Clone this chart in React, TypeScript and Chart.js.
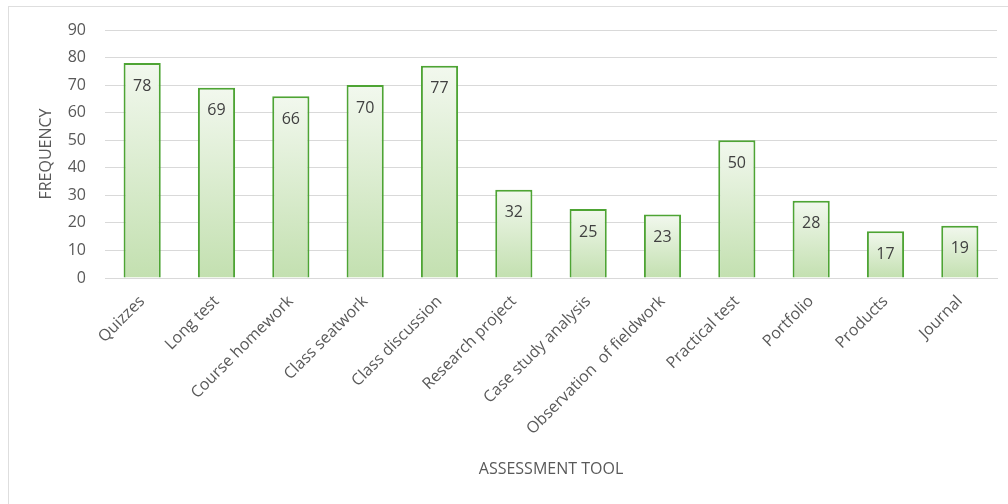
import React, { useEffect, useRef } from "react";
import { Chart, registerables } from "chart.js";

Chart.register(...registerables);

const categories = [
  "Quizzes",
  "Long test",
  "Course homework",
  "Class seatwork",
  "Class discussion",
  "Research project",
  "Case study analysis",
  "Observation  of fieldwork",
  "Practical test",
  "Portfolio",
  "Products",
  "Journal",
];
const frequencies = [78, 69, 66, 70, 77, 32, 25, 23, 50, 28, 17, 19];
const yTicks = [0, 10, 20, 30, 40, 50, 60, 70, 80, 90];

const FONT = "'Open Sans', 'Noto Sans', sans-serif";
const TEXT = "#595959";

const valueLabels = {
  id: "valueLabels",
  afterDatasetsDraw(chart: any) {
    const ctx = chart.ctx;
    const meta = chart.getDatasetMeta(0);
    ctx.save();
    ctx.font = `16px ${FONT}`;
    ctx.fillStyle = "#404040";
    ctx.textAlign = "center";
    ctx.textBaseline = "middle";
    meta.data.forEach((el: any, i: number) => {
      ctx.fillText(String(frequencies[i]), el.x, el.y + 23);
    });
    ctx.restore();
  },
};

export default function App() {
  const ref = useRef<HTMLCanvasElement | null>(null);
  useEffect(() => {
    if (!ref.current) return;
    const chart = new Chart(ref.current, {
      type: "bar",
      data: {
        labels: categories,
        datasets: [
          {
            data: frequencies,
            backgroundColor: (c: any) => {
              const ch = c.chart;
              const y = ch.scales && ch.scales.y;
              if (!y || typeof c.raw !== "number") return "#dcefd0";
              const top = y.getPixelForValue(c.raw);
              const bottom = y.getPixelForValue(0);
              if (!isFinite(top) || !isFinite(bottom) || top === bottom) return "#dcefd0";
              const g = ch.ctx.createLinearGradient(0, top, 0, bottom);
              g.addColorStop(0, "#f2f8ee");
              g.addColorStop(1, "#c3e0b0");
              return g;
            },
            borderColor: "#4ea434",
            borderWidth: 2,
            borderSkipped: "bottom",
            categoryPercentage: 1,
            barPercentage: 0.5,
          },
        ],
      },
      options: {
        animation: false,
        responsive: false,
        maintainAspectRatio: false,
        layout: { padding: { top: 30, right: 11, left: 0, bottom: 0 } },
        plugins: { legend: { display: false }, tooltip: { enabled: false } },
        scales: {
          x: {
            grid: { display: false },
            border: { display: true, color: "#d9d9d9" },
            ticks: {
              color: TEXT,
              font: { family: FONT, size: 16 },
              minRotation: 45,
              maxRotation: 45,
              autoSkip: false,
              padding: 6,
            },
            title: {
              display: true,
              text: "ASSESSMENT TOOL",
              color: TEXT,
              font: { family: FONT, size: 16 },
              padding: { top: 0, bottom: 25 },
            },
            afterFit: (s: any) => {
              s.height = 226;
            },
          },
          y: {
            min: 0,
            max: 90,
            afterBuildTicks: (s: any) => {
              s.ticks = yTicks.map((v) => ({ value: v }));
            },
            grid: { color: "#d9d9d9", drawTicks: false },
            border: { display: false },
            ticks: {
              color: TEXT,
              font: { family: FONT, size: 16 },
              padding: 19,
            },
            title: {
              display: true,
              text: "FREQUENCY",
              color: TEXT,
              font: { family: FONT, size: 16 },
              padding: { top: 37, bottom: 0 },
            },
            afterFit: (s: any) => {
              s.width = 105;
            },
          },
        },
      },
      plugins: [valueLabels],
    });
    return () => chart.destroy();
  }, []);

  return (
    <div
      style={{
        position: "absolute",
        left: 0,
        top: 0,
        width: 1008,
        height: 504,
        overflow: "hidden",
        background: "#fff",
      }}
    >
      <div
        style={{
          position: "absolute",
          left: 8,
          top: 6,
          width: 1020,
          height: 520,
          border: "1px solid #dedede",
          boxSizing: "border-box",
        }}
      />
      <canvas
        ref={ref}
        width={1008}
        height={504}
        style={{ position: "absolute", left: 0, top: 0, width: 1008, height: 504 }}
      />
    </div>
  );
}
